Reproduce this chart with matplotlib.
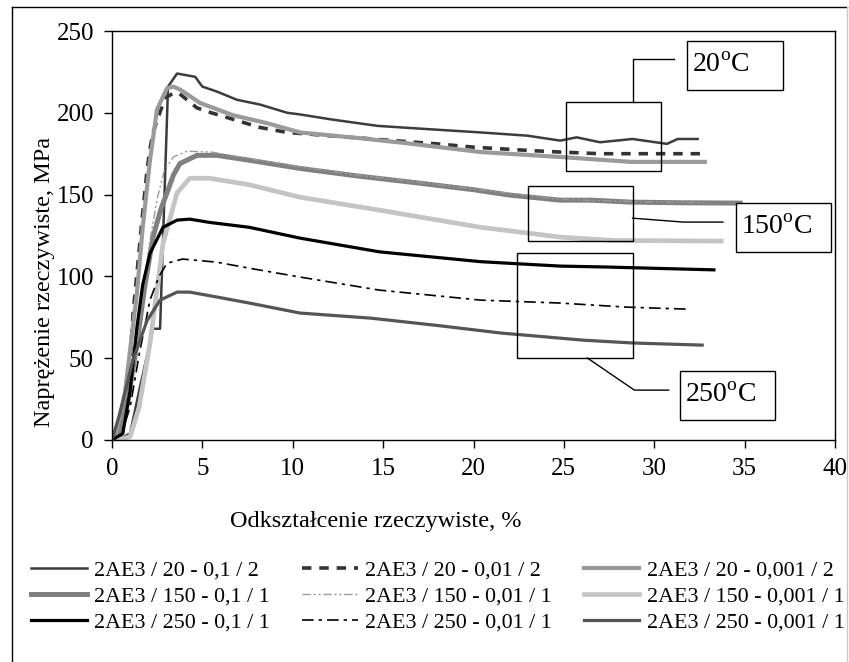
import matplotlib
matplotlib.use("Agg")
import matplotlib.pyplot as plt
from matplotlib.lines import Line2D
from matplotlib.patches import Rectangle

plt.rcParams['font.family'] = ['Liberation Serif', 'DejaVu Serif']
plt.rcParams['mathtext.fontset'] = 'custom'
plt.rcParams['mathtext.rm'] = 'Liberation Serif'

# 2AE3 / 20 - 0,1 / 2
x_20_01 = [0, 0.5, 1.0, 1.6, 2.27, 2.66, 3.1, 3.6, 4.6, 5.0, 5.8, 6.9, 8.2, 9.7, 10.4, 12.1,
           14.7, 17.5, 20.4, 23.0, 24.8, 25.7, 27.0, 28.8, 30.7, 31.3, 32.4]
y_20_01 = [0, 1, 4, 35, 68, 68, 216, 224, 222, 216, 213, 208, 205, 200, 199, 196,
           192, 190, 188, 186, 183, 185, 182, 184, 181, 184, 184]
# 2AE3 / 20 - 0,01 / 2
x_20_001 = [0, 0.6, 1.0, 1.17, 1.45, 1.7, 1.94, 2.1, 2.27, 2.55, 2.93, 3.4, 3.7, 4.7, 5.5, 6.4,
            8.2, 9.7, 12, 15, 18, 20, 23, 24.8, 27, 30, 32.8]
y_20_001 = [0, 18, 49, 78, 110, 139, 165, 178, 188, 197, 209, 212, 212, 203, 200, 197,
            191, 188, 186, 183.5, 181, 179, 177, 176, 175, 175, 175]
# 2AE3 / 20 - 0,001 / 2
x_20_0001 = [0, 0.3, 0.72, 1.0, 1.38, 1.7, 2.1, 2.49, 3.04, 3.4, 3.8, 4.87, 6.7, 8.6, 10.4,
             13.7, 16.3, 20.4, 24.8, 28.7, 32.8]
y_20_0001 = [0, 5, 29, 55, 90, 130, 171, 202, 215, 216, 214, 206, 198.5, 193.6, 188,
             184.5, 181.4, 176, 173, 170, 170]
# 2AE3 / 150 - 0,1 / 1
x_150_01 = [0, 0.44, 0.9, 1.38, 1.8, 2.27, 2.7, 3.04, 3.4, 3.76, 4.7, 5.8, 7.6, 10.4, 13.5,
            17.0, 20, 22.0, 24.8, 26.5, 28.7, 31.5, 34.75]
y_150_01 = [0, 2, 25, 59, 93, 124, 141, 151, 162, 169, 174, 174, 171, 166, 161.5,
            157, 153, 149.7, 146.6, 146.6, 145.4, 145, 144.8]
# 2AE3 / 150 - 0,01 / 1
x_150_001 = [0, 0.5, 1.0, 1.72, 2.1, 2.49, 2.9, 3.4, 4.15, 5.5, 7.6, 10.4, 13.5, 17.0, 20,
             24.8, 28.7, 33.0]
y_150_001 = [0, 3, 25, 90, 122, 147, 165, 173, 176.5, 176, 172, 167, 162, 157.5, 153.5,
             147, 145.8, 145]
# 2AE3 / 150 - 0,001 / 1
x_150_0001 = [0, 0.5, 1.0, 1.5, 2.1, 2.82, 3.6, 4.3, 5.4, 7.6, 10.4, 14.8, 20.4, 23.0, 24.8,
              27.7, 30.5, 33.7]
y_150_0001 = [0, 0.5, 2, 20, 59, 120, 151, 160, 160, 156, 148.4, 140.5, 130, 126.5, 124,
              122, 121.8, 121.6]
# 2AE3 / 250 - 0,1 / 1
x_250_01 = [0, 0.6, 1.0, 1.38, 1.7, 2.1, 2.82, 3.6, 4.3, 5.4, 7.6, 10.4, 14.8, 20.4, 22.0,
            24.8, 27.5, 30.5, 33.3]
y_250_01 = [0, 4, 30, 69, 95, 114, 130, 134.4, 135, 133, 130, 123.4, 115, 109, 108,
            106.3, 105.7, 104.8, 104]
# 2AE3 / 250 - 0,01 / 1
x_250_001 = [0, 0.5, 1.0, 1.5, 2.1, 2.6, 3.04, 3.9, 5.8, 7.6, 10.4, 14.8, 20.4, 24.8, 28.5, 31.8]
y_250_001 = [0, 3, 20, 52, 85.5, 100, 108, 110.6, 108.7, 105, 99.6, 91.6, 85.5, 83.7, 81.2, 80]
# 2AE3 / 250 - 0,001 / 1
x_250_0001 = [0, 0.4, 1.16, 1.94, 2.66, 3.6, 4.3, 5.8, 7.6, 10.4, 14.3, 18.0, 21.5, 26.1, 28.8, 32.65]
y_250_0001 = [0, 15, 49, 73, 85.5, 90.4, 90.4, 87.4, 83.7, 77.6, 74.5, 70, 65.4, 61, 59.3, 58]

labels = ["2AE3 / 20 - 0,1 / 2", "2AE3 / 20 - 0,01 / 2", "2AE3 / 20 - 0,001 / 2",
          "2AE3 / 150 - 0,1 / 1", "2AE3 / 150 - 0,01 / 1", "2AE3 / 150 - 0,001 / 1",
          "2AE3 / 250 - 0,1 / 1", "2AE3 / 250 - 0,01 / 1", "2AE3 / 250 - 0,001 / 1"]

series = [
    (x_20_01, y_20_01, dict(color='#3c3c3c', lw=1.8)),
    (x_20_001, y_20_001, dict(color='#333333', lw=2.6, dashes=(2.6, 2.2))),
    (x_20_0001, y_20_0001, dict(color='#9a9a9a', lw=3.0)),
    (x_150_01, y_150_01, dict(color='#808080', lw=3.6)),
    (x_150_001, y_150_001, dict(color='#9a9a9a', lw=1.0, dashes=(6, 2, 1.5, 2, 1.5, 2))),
    (x_150_0001, y_150_0001, dict(color='#c4c4c4', lw=3.4)),
    (x_250_01, y_250_01, dict(color='black', lw=2.3)),
    (x_250_001, y_250_001, dict(color='black', lw=1.2, dashes=(7, 3, 2, 3))),
    (x_250_0001, y_250_0001, dict(color='#555555', lw=2.3)),
]

W, H = 849, 662
fig = plt.figure(figsize=(W / 100, H / 100), dpi=100)

# outer frame of the chart object
fig.add_artist(Line2D([12 / W, 12 / W], [0, 1 - 7 / H], color='black', lw=1.0))
fig.add_artist(Line2D([12 / W, 847 / W], [1 - 7 / H, 1 - 7 / H], color='black', lw=1.0))
fig.add_artist(Line2D([847 / W, 847 / W], [0, 1 - 7 / H], color='#c8c8c8', lw=1.0))

ax = fig.add_axes([112 / W, 1 - 440 / H, 723 / W, 409 / H])

handles = []
for (xs, ys, st), lab in zip(series, labels):
    ln, = ax.plot(xs, ys, label=lab, solid_joinstyle='round', **st)
    handles.append(ln)

ax.set_xlim(0, 40)
ax.set_ylim(0, 250)
ax.set_xticks(range(0, 41, 5))
ax.set_yticks(range(0, 251, 50))
ax.tick_params(direction='out', length=6, width=1, labelsize=18, pad=7)
for s in ax.spines.values():
    s.set_linewidth(1.0)

fig.text(45 / W, 1 - 282 / H, "Naprężenie rzeczywiste, MPa", rotation=90,
         ha='center', va='center', fontsize=17.5)
fig.text(376 / W, 1 - 521 / H, "Odkształcenie rzeczywiste, %",
         ha='center', va='center', fontsize=17.5)

# zoom boxes with leaders and temperature labels
def zoom_box(x0, x1, y0, y1):
    ax.add_patch(Rectangle((x0, y0), x1 - x0, y1 - y0, fill=False, ec='black', lw=1.0,
                           clip_on=False, zorder=5))

def label_box(x0, x1, y0, y1, txt):
    ax.add_patch(Rectangle((x0, y0), x1 - x0, y1 - y0, fill=True, fc='white', ec='black',
                           lw=1.0, clip_on=False, zorder=5))
    ax.text(x0 + 0.3, (y0 + y1) / 2, txt, ha='left', va='center', fontsize=20,
            zorder=6, clip_on=False)

zoom_box(25.1, 30.4, 164.3, 206.5)
ax.plot([28.83, 28.83, 31.1], [206.5, 232.7, 232.7], color='black', lw=1.0, clip_on=False)
label_box(31.8, 37.1, 213.8, 243.7, r"20$^{\mathrm{o}}$C")

zoom_box(23.0, 28.8, 121.6, 155.2)
ax.plot([28.8, 31.6, 33.8], [135.6, 133.2, 133.2], color='black', lw=1.0, clip_on=False)
label_box(34.5, 39.8, 114.8, 144.8, r"150$^{\mathrm{o}}$C")

zoom_box(22.4, 28.8, 50.1, 114.2)
ax.plot([26.3, 28.9, 30.8], [50.1, 30.5, 30.5], color='black', lw=1.0, clip_on=False)
label_box(31.4, 36.7, 12.2, 42.2, r"250$^{\mathrm{o}}$C")

# legend, filled column by column
order = [0, 3, 6, 1, 4, 7, 2, 5, 8]
fig.legend([handles[i] for i in order], [labels[i] for i in order], ncol=3,
           loc='upper left', bbox_to_anchor=(31 / W, 1 - 560 / H), frameon=False,
           fontsize=15.8, handlelength=2.55, handletextpad=0.33, columnspacing=1.45,
           labelspacing=0.26, borderpad=0, borderaxespad=0)

fig.savefig("out.png", dpi=100)
